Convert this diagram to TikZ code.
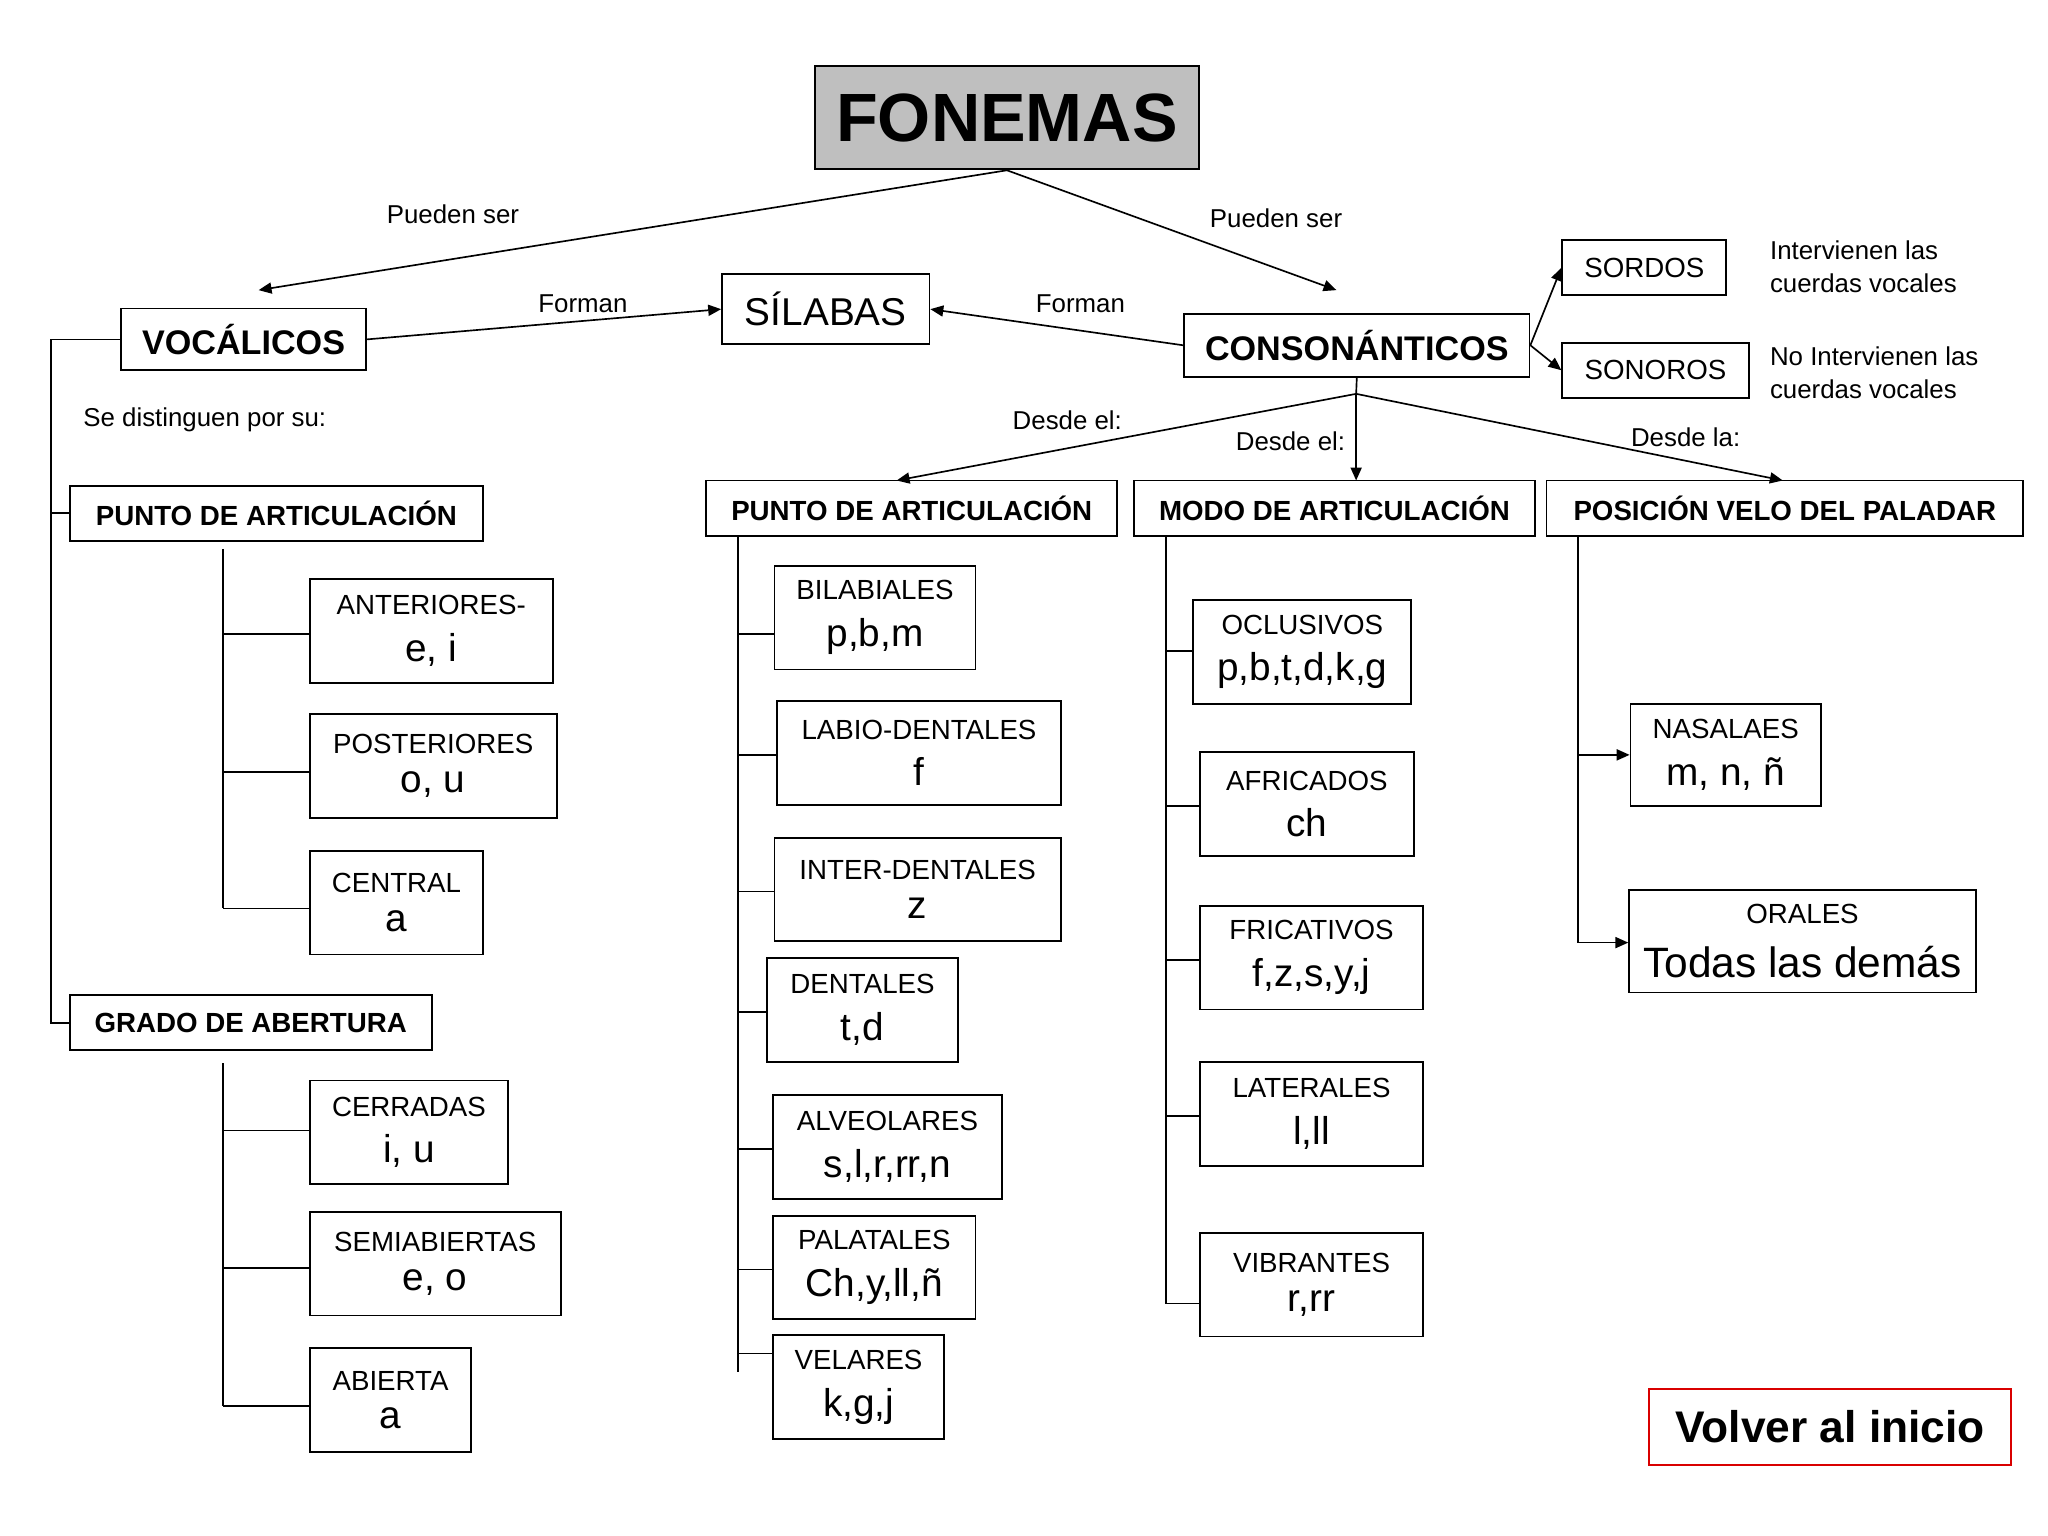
\documentclass[tikz,border=0pt]{standalone}
\usepackage{fontspec}
\setmainfont{Liberation Sans}
\usetikzlibrary{arrows.meta}
\newcommand\sm{\fontsize{15}{19}\selectfont}
\newcommand\bg{\fontsize{21}{25}\selectfont}
\newcommand\lb{\fontsize{14}{18}\selectfont}
\newcommand\bx[6]{\pgfmathsetmacro\bw{(#4-#2)*0.025}\pgfmathsetmacro\bh{(#5-#3)*0.025}\node[box,minimum width=\bw cm,minimum height=\bh cm] (#1) at ({(#2+#4)/2},{(#3+#5)/2}) {#6};}
\newcommand\tw[2]{\sm #1\\[9pt]\bg #2}
\begin{document}
\begin{tikzpicture}[x=0.025cm,y=-0.025cm,
  box/.style={draw,line width=1pt,inner sep=0pt,align=center},
  ln/.style={line width=0.9pt},
  ar/.style={ln,-{Triangle[length=7pt,width=6pt]}},
  lab/.style={font=\lb,inner sep=0pt}]
\useasboundingbox (0,0) rectangle (1560,1170);
% top
\pgfmathsetmacro\bw{292*0.025}\pgfmathsetmacro\bh{79*0.025}
\node[box,fill=black!25,minimum width=\bw cm,minimum height=\bh cm,font=\fontsize{37}{40}\selectfont\bfseries] (fon) at (767,89.5) {FONEMAS};
\bx{voc}{92}{235}{279}{282}{\fontsize{18.5}{22}\selectfont\bfseries VOCÁLICOS}
\bx{sil}{550}{209}{708}{262}{\fontsize{21}{24}\selectfont SÍLABAS}
\bx{con}{902}{239}{1165}{287}{\fontsize{18.5}{22}\selectfont\bfseries CONSONÁNTICOS}
\bx{sor}{1190}{183}{1315}{225}{\sm SORDOS}
\bx{son}{1190}{261}{1332}{303}{\sm SONOROS}
\node[lab,anchor=west,align=left] at (1348,203) {Intervienen las\\cuerdas vocales};
\node[lab,anchor=west,align=left] at (1348,284) {No Intervienen las\\cuerdas vocales};
\node[lab] at (345,163) {Pueden ser};
\node[lab] at (972,166) {Pueden ser};
\node[lab] at (444,231) {Forman};
\node[lab] at (823,231) {Forman};
\node[lab] at (156,320) {Se distinguen por su:};
\node[lab] at (813,320) {Desde el:};
\node[lab] at (983,336) {Desde el:};
\node[lab] at (1284,333) {Desde la:};
\draw[ar] (fon.south) -- (197,221);
\draw[ar] (fon.south) -- (1018,221);
\draw[ar] (voc.east) -- (sil.west);
\draw[ar] (con.west) -- (sil.east);
\draw[ar] (con.east) -- (sor.west);
\draw[ar] (con.east) -- (son.west);
% left tree
\bx{pa1}{53}{370}{368}{412}{\fontsize{15}{18}\selectfont\bfseries PUNTO DE ARTICULACIÓN}
\bx{ga}{53}{758}{329}{800}{\fontsize{15}{18}\selectfont\bfseries GRADO DE ABERTURA}
\draw[ln] (voc.west) -- (voc.west-|39,0) -- (ga.west-|39,0) -- (ga.west);
\draw[ln] (pa1.west-|39,0) -- (pa1.west);
\bx{ant}{236}{441}{421}{520}{\tw{ANTERIORES-}{e, i}}
\bx{pos}{236}{544}{424}{623}{\tw{POSTERIORES}{o, u}}
\bx{cen}{236}{648}{368}{727}{\tw{CENTRAL}{a}}
\draw[ln] (170,418) -- (170,692);
\draw[ln] (170,483) -- (ant.west|-0,483);
\draw[ln] (170,588) -- (pos.west|-0,588);
\draw[ln] (170,692) -- (cen.west|-0,692);
\bx{cer}{236}{823}{387}{902}{\tw{CERRADAS}{i, u}}
\bx{sem}{236}{923}{427}{1002}{\tw{SEMIABIERTAS}{e, o}}
\bx{abi}{236}{1027}{359}{1106}{\tw{ABIERTA}{a}}
\draw[ln] (170,810) -- (170,1071);
\draw[ln] (170,861) -- (cer.west|-0,861);
\draw[ln] (170,966) -- (sem.west|-0,966);
\draw[ln] (170,1071) -- (abi.west|-0,1071);
% consonant categories
\bx{pa2}{538}{366}{851}{408}{\fontsize{15}{18}\selectfont\bfseries PUNTO DE ARTICULACIÓN}
\bx{mo}{864}{366}{1169}{408}{\fontsize{15}{18}\selectfont\bfseries MODO DE ARTICULACIÓN}
\bx{pv}{1178}{366}{1541}{408}{\fontsize{15}{18}\selectfont\bfseries POSICIÓN VELO DEL PALADAR}
\coordinate (ap) at (1033,300);
\draw[ln] (con.south) -- (ap);
\draw[ar] (ap) -- (683,366);
\draw[ar] (ap) -- (1033,366);
\draw[ar] (ap) -- (1358,366);
% punto subtree
\bx{bil}{590}{431}{743}{510}{\tw{BILABIALES}{p,b,m}}
\bx{lab}{592}{534}{808}{613}{\tw{LABIO-DENTALES}{f}}
\bx{int}{590}{638}{808}{717}{\tw{INTER-DENTALES}{z}}
\bx{den}{584}{730}{730}{809}{\tw{DENTALES}{t,d}}
\bx{alv}{589}{834}{763}{913}{\tw{ALVEOLARES}{s,l,r,rr,n}}
\bx{pal}{589}{926}{743}{1005}{\tw{PALATALES}{Ch,y,ll,ñ}}
\bx{vel}{589}{1017}{719}{1096}{\tw{VELARES}{k,g,j}}
\draw[ln] (562,408) -- (562,1045);
\foreach \n/\y in {bil/483,lab/575,int/679,den/771,alv/875,pal/967,vel/1031}
  \draw[ln] (562,\y) -- (\n.west|-0,\y);
% modo subtree
\bx{ocl}{909}{457}{1075}{536}{\tw{OCLUSIVOS}{p,b,t,d,k,g}}
\bx{afr}{914}{573}{1077}{652}{\tw{AFRICADOS}{ch}}
\bx{fri}{914}{690}{1084}{769}{\tw{FRICATIVOS}{f,z,s,y,j}}
\bx{lat}{914}{809}{1084}{888}{\tw{LATERALES}{l,ll}}
\bx{vib}{914}{939}{1084}{1018}{\tw{VIBRANTES}{r,rr}}
\draw[ln] (888,408) -- (888,993);
\foreach \n/\y in {ocl/496,afr/614,fri/731,lat/850,vib/993}
  \draw[ln] (888,\y) -- (\n.west|-0,\y);
% posicion subtree
\bx{nas}{1242}{536}{1387}{614}{\tw{NASALAES}{m, n, ñ}}
\bx{ora}{1241}{678}{1505}{756}{\sm ORALES\\[11pt]\fontsize{23}{27}\selectfont Todas las demás}
\draw[ln] (1202,408) -- (1202,718);
\draw[ar] (1202,575) -- (nas.west|-0,575);
\draw[ar] (1202,718) -- (ora.west|-0,718);
% volver
\pgfmathsetmacro\bw{276*0.025}\pgfmathsetmacro\bh{58*0.025}
\node[draw=red!85!black,line width=1pt,minimum width=\bw cm,minimum height=\bh cm,font=\fontsize{24}{28}\selectfont\bfseries] (vol) at (1394,1087) {Volver al inicio};
\end{tikzpicture}
\end{document}
